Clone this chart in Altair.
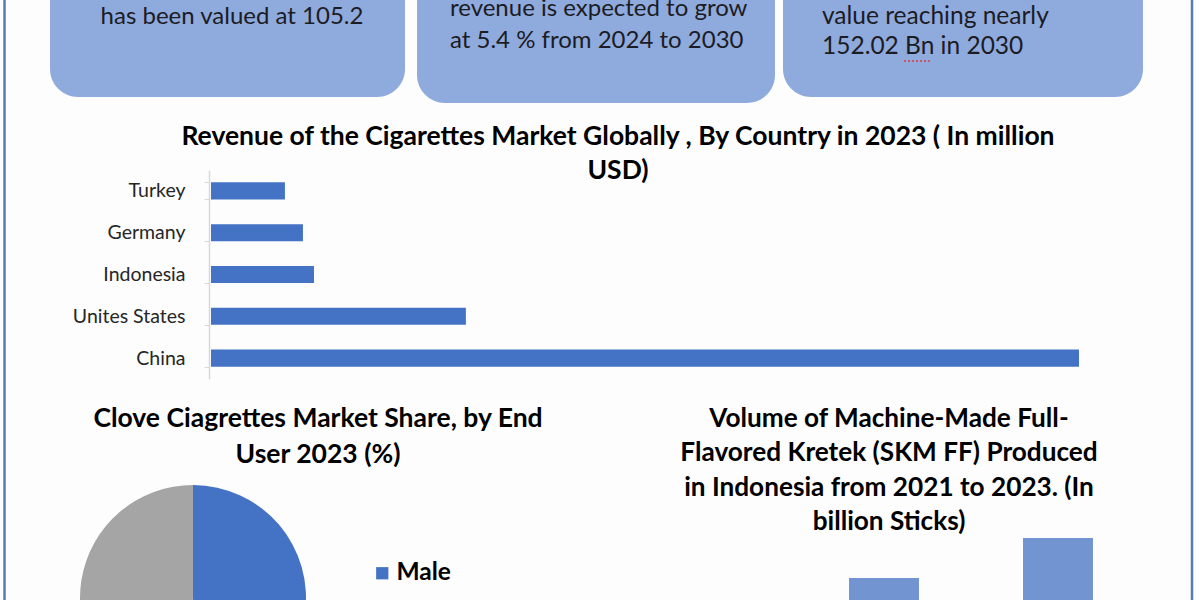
import altair as alt
import pandas as pd

# ---- data ----
countries = ["Turkey", "Germany", "Indonesia", "Unites States", "China"]
revenue = [20100, 25000, 28000, 69300, 236000]  # million USD (estimated)

end_users = ["Male", "Female"]
share = [55, 45]

years = ["2021", "2022", "2023"]
volume = [150, 170, 195]  # billion sticks (estimated)

box1_lines = ["has been valued at 105.2"]
box2_lines = ["revenue is expected to grow", "at 5.4 % from 2024 to 2030"]
box3_lines = ["value reaching nearly", "152.02 Bn in 2030"]
title_bar = ["Revenue of the Cigarettes Market Globally , By Country in 2023 ( In million", "USD)"]
title_pie = ["Clove Ciagrettes Market Share, by End", "User 2023 (%)"]
title_col = ["Volume of Machine-Made Full-", "Flavored Kretek (SKM FF) Produced",
             "in Indonesia from 2021 to 2023. (In", "billion Sticks)"]

FONT = "Lato"
BOX = "#8faadc"
BLUE = "#4472c4"
GRAY = "#a5a5a5"
COL = "#7294d0"
BORDER = "#5a7bb0"

dummy = pd.DataFrame({"k": [0]})


def box(x1, x2, y2):
    return alt.Chart(dummy).mark_rect(color=BOX, cornerRadius=28).encode(
        x=alt.value(x1), x2=alt.value(x2), y=alt.value(-80), y2=alt.value(y2))


def txt(lines, x, y, size, bold=False, align="center", lh=None, color="#1c1c24"):
    return alt.Chart(dummy).mark_text(
        font=FONT, fontSize=size, fontWeight="bold" if bold else "normal",
        align=align, baseline="middle", color=color, lineHeight=lh or size * 1.2
    ).encode(x=alt.value(x), y=alt.value(y), text=alt.value(lines))


def vline(x):
    return alt.Chart(dummy).mark_rule(color=BORDER, strokeWidth=2.5).encode(
        x=alt.value(x), y=alt.value(0), y2=alt.value(600))


# red spell-check underline under "Bn"
squiggle = alt.Chart(dummy).mark_rule(color="#e03a3a", strokeWidth=1.5, strokeDash=[2, 2]).encode(
    x=alt.value(904), x2=alt.value(930), y=alt.value(61))

layers = [
    vline(4.5), vline(1192),
    box(50, 405, 97), box(417, 775, 103), box(783, 1143, 97),
    txt(box1_lines, 232, 17, 24),
    txt(box2_lines, 450, 9, 24, align="left", lh=32),
    txt(box3_lines, 822, 17, 24.5, align="left", lh=30),
    squiggle,
    txt(title_bar, 618, 137, 26.5, bold=True, lh=34, color="#000000"),
    txt(title_pie, 318, 419, 26.5, bold=True, lh=36, color="#000000"),
    txt(title_col, 889, 419, 26.2, bold=True, lh=34.3, color="#000000"),
]

df_rev = pd.DataFrame({"country": countries, "revenue": revenue})
bars = alt.Chart(df_rev).mark_bar(color=BLUE).encode(
    y=alt.Y("country:N", sort=countries,
            scale=alt.Scale(domain=countries, range=[170, 379], paddingInner=0.59, paddingOuter=0.295),
            axis=alt.Axis(title=None, offset=-209, tickBand="extent", domainColor="#d9d9d9",
                          tickColor="#d9d9d9", tickSize=5, domainWidth=1.5, labelFont=FONT,
                          labelFontSize=19.5, labelColor="#262626", labelPadding=19, grid=False)),
    x=alt.X("revenue:Q", scale=alt.Scale(domain=[0, max(revenue)], range=[211, 1079], nice=False), axis=None),
)

df_pie = pd.DataFrame({"user": end_users, "share": share, "ord": [0, 1]})
pie = alt.Chart(df_pie).mark_arc(outerRadius=113).encode(
    theta=alt.Theta("share:Q", stack=True),
    order=alt.Order("ord:Q"),
    color=alt.Color("user:N", scale=alt.Scale(domain=end_users, range=[BLUE, GRAY]),
                    legend=alt.Legend(title=None, orient="none", legendX=370, legendY=561,
                                      values=["Male"],
                                      symbolType="square", symbolSize=150, symbolStrokeWidth=0,
                                      labelFont=FONT, labelFontSize=24.5, labelFontWeight="bold",
                                      labelColor="#000000", labelOffset=2)),
    x=alt.value(193), y=alt.value(598),
)

df_vol = pd.DataFrame({"year": years, "volume": volume})
cols = alt.Chart(df_vol).mark_bar(color=COL, clip=True).encode(
    x=alt.X("year:N", scale=alt.Scale(domain=years, range=[623, 1145], paddingInner=0.598, paddingOuter=0.299), axis=None),
    y=alt.Y("volume:Q", scale=alt.Scale(domain=[0, 200], range=[850, 530], nice=False, zero=True), axis=None),
)

chart = alt.layer(*layers, bars, pie, cols).resolve_scale(
    x="independent", y="independent", color="independent", theta="independent"
).properties(
    width=1200, height=600, background="#fdfdfd", padding=0,
    autosize=alt.AutoSizeParams(type="none"),
).configure_view(strokeWidth=0)

chart.save("out.html", embed_options={"renderer": "svg", "actions": False})
